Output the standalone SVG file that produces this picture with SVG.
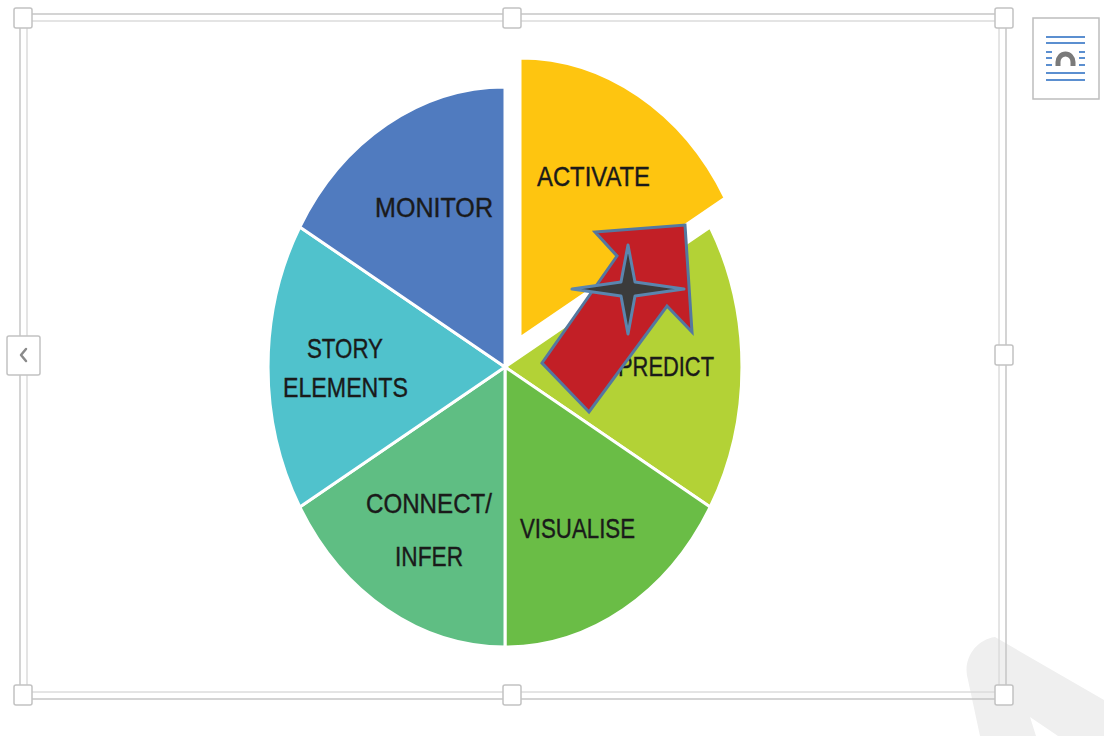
<svg xmlns="http://www.w3.org/2000/svg" width="1104" height="736" viewBox="0 0 1104 736">
  <style>
    .slice { stroke: #ffffff; stroke-width: 3; stroke-linejoin: round; }
    .lbl { font-family: "Liberation Sans", Arial, sans-serif; font-size: 28px; fill: #1a1a1a; stroke: #1a1a1a; stroke-width: 0.4; }
    .handle { fill: #ffffff; stroke: #c2c2c2; stroke-width: 1.5; }
    .ico { stroke: #5b8fd0; stroke-width: 2; }
  </style>
  <rect width="1104" height="736" fill="#ffffff"/>

  <!-- faint background watermark shape -->
  <path d="M 968,680 C 962,660 975,640 995,637 L 1104,700 L 1104,736 L 1058,736 L 1030,717 L 1036,736 L 980,736 Z" fill="#efefef"/>

  <!-- selection frame -->
  <g id="frame" fill="none">
    <rect x="20" y="14" width="986" height="685" stroke="#c6c6c6" stroke-width="1.5"/>
    <rect x="27" y="21" width="972" height="671" stroke="#dcdcdc" stroke-width="1.5"/>
    <rect class="handle" x="14" y="8" width="18" height="20" rx="2"/>
    <rect class="handle" x="503" y="8" width="18" height="20" rx="2"/>
    <rect class="handle" x="995" y="8" width="18" height="20" rx="2"/>
    <rect class="handle" x="995" y="345" width="18" height="20" rx="2"/>
    <rect class="handle" x="14" y="685" width="18" height="20" rx="2"/>
    <rect class="handle" x="503" y="685" width="18" height="20" rx="2"/>
    <rect class="handle" x="995" y="685" width="18" height="20" rx="2"/>
    <rect class="handle" x="7" y="336" width="33" height="39" rx="2"/>
    <path d="M 26,349 L 21,355 L 26,361" stroke="#8a8a8a" stroke-width="2.5" stroke-linecap="round" stroke-linejoin="round"/>
  </g>

  <!-- layout options icon -->
  <g id="layout-icon">
    <rect x="1033" y="18" width="66" height="81" fill="#ffffff" stroke="#bdbdbd" stroke-width="1.5"/>
    <line class="ico" x1="1046" y1="37" x2="1085" y2="37"/>
    <line class="ico" x1="1046" y1="43" x2="1085" y2="43"/>
    <line class="ico" x1="1046" y1="52" x2="1052" y2="52"/>
    <line class="ico" x1="1079" y1="52" x2="1085" y2="52"/>
    <line class="ico" x1="1046" y1="58" x2="1052" y2="58"/>
    <line class="ico" x1="1079" y1="58" x2="1085" y2="58"/>
    <line class="ico" x1="1046" y1="65" x2="1052" y2="65"/>
    <line class="ico" x1="1079" y1="65" x2="1085" y2="65"/>
    <line class="ico" x1="1046" y1="73" x2="1085" y2="73"/>
    <line class="ico" x1="1046" y1="80" x2="1085" y2="80"/>
    <path d="M 1058,66 L 1058,62 A 7.5,8 0 0 1 1073,62 L 1073,66" fill="none" stroke="#7a7a7a" stroke-width="5"/>
  </g>

  <!-- pie slices -->
  <g id="predict">
    <path class="slice" d="M505,367 L710.2,227 A237,280 0 0 1 710.2,507 Z" fill="#b3d236"/>
  </g>
  <g id="visualise">
    <path class="slice" d="M505,367 L710.2,507 A237,280 0 0 1 505,647 Z" fill="#6abd46"/>
  </g>
  <g id="connect-infer">
    <path class="slice" d="M505,367 L505,647 A237,280 0 0 1 299.8,507 Z" fill="#5fbe83"/>
  </g>
  <g id="story-elements">
    <path class="slice" d="M505,367 L299.8,507 A237,280 0 0 1 299.8,227 Z" fill="#50c2cc"/>
  </g>
  <g id="monitor">
    <path class="slice" d="M505,367 L299.8,227 A237,280 0 0 1 505,87 Z" fill="#507bbf"/>
  </g>
  <g id="activate">
    <path class="slice" d="M520,338 L520,58 A237,280 0 0 1 725.2,198 Z" fill="#fec510"/>
  </g>

  <!-- labels -->
  <g id="labels">
    <text class="lbl" x="537" y="186" textLength="113" lengthAdjust="spacingAndGlyphs">ACTIVATE</text>
    <text class="lbl" x="618" y="376" textLength="96" lengthAdjust="spacingAndGlyphs">PREDICT</text>
    <text class="lbl" x="520" y="538" textLength="115" lengthAdjust="spacingAndGlyphs">VISUALISE</text>
    <text class="lbl" x="366" y="513" textLength="126" lengthAdjust="spacingAndGlyphs">CONNECT/</text>
    <text class="lbl" x="395" y="566" textLength="68" lengthAdjust="spacingAndGlyphs">INFER</text>
    <text class="lbl" x="307" y="358" textLength="76" lengthAdjust="spacingAndGlyphs">STORY</text>
    <text class="lbl" x="283" y="397" textLength="125" lengthAdjust="spacingAndGlyphs">ELEMENTS</text>
    <text class="lbl" x="375" y="217" textLength="118" lengthAdjust="spacingAndGlyphs">MONITOR</text>
  </g>

  <!-- block arrow and star -->
  <g id="arrow">
    <polygon points="685,225 692,332 667,306 589,412 542,363 617,256 595,232" fill="#c21f26" stroke="#5478a0" stroke-width="3" stroke-linejoin="miter"/>
  </g>
  <g id="star">
    <polygon points="628,245 635,282 684,289 635,296 628,334 621,296 572,289 621,282" fill="#3b3b3b" stroke="#5b85ae" stroke-width="3" stroke-linejoin="round"/>
  </g>
</svg>
